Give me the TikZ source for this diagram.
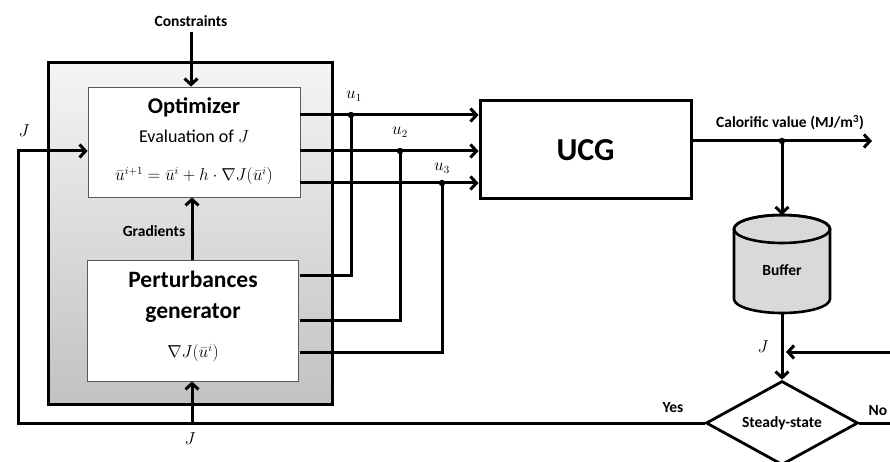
\documentclass[tikz,border=0pt]{standalone}
\usepackage{fontspec}
\setmainfont{Carlito}
\usepackage{amsmath}
\usetikzlibrary{shapes.geometric,arrows.meta,calc}
\begin{document}
\begin{tikzpicture}[x=1pt,y=-1pt,
  line/.style={line width=3pt},
  arr/.style={line width=3pt,-{Straight Barb[length=6pt,width=13pt]}},
  thinbox/.style={draw=gray!70!black,line width=0.8pt,fill=white,inner sep=0pt},
  lbl/.style={font=\bfseries\fontsize{15.5}{17}\selectfont,inner sep=0pt},
  mlbl/.style={inner sep=0pt,font=\fontsize{16}{18}\selectfont},
  dot/.style={fill=black}]
\useasboundingbox (0,0) rectangle (890,462);
% outer gray box
\node[draw,line width=3pt,top color=gray!8,bottom color=gray!48,
  minimum width=284pt,minimum height=341pt,inner sep=0pt] (outer) at (190,233.5) {};
% optimizer
\node[thinbox,minimum width=212pt,minimum height=110pt] (opt) at (194,142) {};
\node[font=\bfseries\fontsize{22.5}{24}\selectfont,inner sep=0pt] (optt) at (194,107) {Optimizer};
\node[font=\fontsize{18}{20}\selectfont,inner sep=0pt] (eval) at (194,136) {Evaluation of $J$};
\node[font=\fontsize{16}{18}\selectfont,inner sep=0pt] (form) at (194,176) {$\bar{u}^{i+1}=\bar{u}^{i}+h\cdot\nabla J(\bar{u}^{i})$};
% perturbances
\node[thinbox,minimum width=211pt,minimum height=121pt] (pert) at (192.5,320.5) {};
\node[font=\bfseries\fontsize{23.5}{25}\selectfont,inner sep=0pt,align=center] (pertt) at (193,297) {Perturbances\\[6pt]generator};
\node[font=\fontsize{16}{18}\selectfont,inner sep=0pt] (grad) at (193,353) {$\nabla J(\bar{u}^{i})$};
% UCG
\node[draw,line width=3pt,fill=white,minimum width=211pt,minimum height=98pt,
  font=\bfseries\fontsize{32}{34}\selectfont] (ucg) at (585.5,150) {UCG};
% buffer cylinder
\coordinate (buftop) at (782,215);
\coordinate (bufbot) at (782,313);
\filldraw[fill=gray!30,line width=2.6pt] (734,229) -- (734,299)
  arc[start angle=180,end angle=360,x radius=48pt,y radius=14pt] -- (830,229)
  arc[start angle=0,end angle=180,x radius=48pt,y radius=14pt] -- cycle;
\draw[line width=2.6pt] (782,229) ellipse[x radius=48pt,y radius=14pt];
\node[lbl] (buffer) at (782,270) {Buffer};
% diamond
\node[diamond,draw,line width=2.8pt,fill=white,aspect=1.8,inner sep=0pt,
  minimum width=152pt,minimum height=84pt,font=\bfseries\fontsize{15.5}{17}\selectfont] (dia) at (782,423) {Steady-state};
% labels
\node[lbl] (cons) at (191,21) {Constraints};
\node[lbl] (gradl) at (154,231) {Gradients};
\node[lbl] (calv) at (790,123) {Calorific value (MJ/m\textsuperscript{3})};
\node[lbl] (yes) at (673,408) {Yes};
\node[lbl] (no) at (878,411) {No};
\node[mlbl] (jl) at (24,131) {$J$};
\node[mlbl] (jb) at (190,439) {$J$};
\node[mlbl] (jr) at (763,347) {$J$};
\node[mlbl] (u1) at (354,96) {$u_1$};
\node[mlbl] (u2) at (400,132) {$u_2$};
\node[mlbl] (u3) at (442,168) {$u_3$};
% coordinates
\coordinate (j1) at (351,115);
\coordinate (j2) at (400,151);
\coordinate (j3) at (442,183);
\coordinate (p1) at (300,275);
\coordinate (p2) at (300,320);
\coordinate (p3) at (300,352);
\coordinate (tl) at (18,151);
\coordinate (bj) at (192,424);
\coordinate (cv) at (782,141);
\coordinate (cvend) at (872,141);
\coordinate (rin) at (890,352);
\coordinate (nout) at (890,423);
% connectors
\draw[arr] (cons.south) ++(0,5) -- (opt.north -| cons.south);
\draw[arr] (pert.north -| 192,0) -- (opt.south -| 192,0);
\draw[arr] (bj) -- (pert.south -| bj);
\draw[arr] (dia.west) -| (tl) -- (tl -| opt.west);
\draw[arr] (j1 -| opt.east) -- (j1 -| ucg.west);
\draw[arr] (j2 -| opt.east) -- (j2 -| ucg.west);
\draw[arr] (j3 -| opt.east) -- (j3 -| ucg.west);
\draw[line] (p1) -| (j1);
\draw[line] (p2) -| (j2);
\draw[line] (p3) -| (j3);
\fill[dot] (j1) circle (3.2pt);
\fill[dot] (j2) circle (3.2pt);
\fill[dot] (j3) circle (3.2pt);
\draw[arr] (cv -| ucg.east) -- (cvend);
\draw[arr] (cv) -- (buftop);
\fill[dot] (cv) circle (3.2pt);
\draw[arr] (bufbot) -- (dia.north);
\draw[arr] (rin) -- ([xshift=4pt]rin -| dia.north);
\draw[line] (dia.east) -- (nout);
\end{tikzpicture}
\end{document}
